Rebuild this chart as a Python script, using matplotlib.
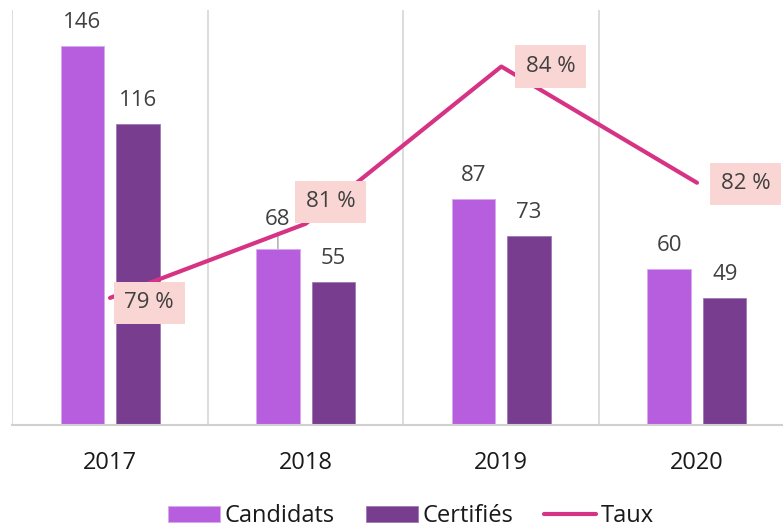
import matplotlib
matplotlib.use('Agg')
import matplotlib.pyplot as plt
import numpy as np

years = ['2017', '2018', '2019', '2020']
candidats = [146, 68, 87, 60]
certifies = [116, 55, 73, 49]
taux = [0.7945, 0.8088, 0.8391, 0.8167]

# label offsets (pixels) for the rate boxes
taux_offsets = [(39, -5), (25, 22), (49, 0), (49, -1)]

col_cand = '#B75EDE'
col_cert = '#783D8F'
col_taux = '#D63384'
txt_col = '#404040'

plt.rcParams['font.family'] = ['Open Sans', 'DejaVu Sans']

fig = plt.figure(figsize=(7.83, 5.29), dpi=100)
ax = fig.add_axes([12.2/783, 104/529, 782.6/783, 415/529])

x = np.arange(len(years))
w = 0.222
off = 0.142
b1 = ax.bar(x - off, candidats, w, color=col_cand, edgecolor='#D9A8EE', linewidth=0.6, label='Candidats', zorder=2)
b2 = ax.bar(x + off, certifies, w, color=col_cert, edgecolor='#A07AB5', linewidth=0.6, label='Certifiés', zorder=2)

ax.set_xlim(-0.5, 3.5)
ax.set_ylim(0, 160)
for gx in [-0.5, 0.5, 1.5, 2.5]:
    ax.axvline(gx, color='#D9D9D9', lw=1.3, zorder=1)

for s in ['top', 'right', 'left']:
    ax.spines[s].set_visible(False)
ax.spines['bottom'].set_color('#D0D0D0')
ax.spines['bottom'].set_linewidth(1.5)
ax.set_yticks([])
ax.set_xticks(x)
ax.set_xticklabels(years, fontsize=17, color='#1A1A1A')
ax.tick_params(axis='x', length=0, pad=19)

for i, v in enumerate(candidats):
    if v == 68:
        ax.annotate(str(v), xy=(x[i] - off, v), xytext=(0, 19), textcoords='offset pixels',
                    ha='center', va='bottom', fontsize=16, color=txt_col,
                    arrowprops=dict(arrowstyle='-', color='#A6A6A6', lw=1, shrinkA=0, shrinkB=0,
                                    relpos=(0.5, 0.1)))
    else:
        ax.annotate(str(v), xy=(x[i] - off, v), xytext=(0, 13), textcoords='offset pixels',
                    ha='center', va='bottom', fontsize=16, color=txt_col)
for i, v in enumerate(certifies):
    ax.annotate(str(v), xy=(x[i] + off, v), xytext=(0, 13), textcoords='offset pixels',
                ha='center', va='bottom', fontsize=16, color=txt_col)

ax2 = ax.twinx()
ax2.set_ylim(0.77, 0.85)
ax2.axis('off')
line, = ax2.plot(x, taux, color=col_taux, lw=3, solid_capstyle='round', label='Taux', zorder=3)
for i, t in enumerate(taux):
    ax2.annotate(f"{round(t*100)} %", xy=(x[i], t), xytext=taux_offsets[i], textcoords='offset pixels',
                 ha='center', va='center', fontsize=16, color=txt_col, zorder=4,
                 bbox=dict(boxstyle='square,pad=0.48', fc='#F9D5D3', ec='none'))

fig.legend([b1, b2, line], ['Candidats', 'Certifiés', 'Taux'], loc='center',
           bbox_to_anchor=(411/783, 1 - 516/529), ncol=3, frameon=False, fontsize=17,
           labelcolor='#1A1A1A', handlelength=2.2, handleheight=0.65,
           handletextpad=0.2, columnspacing=1.3)

fig.savefig('out.png', dpi=100)
